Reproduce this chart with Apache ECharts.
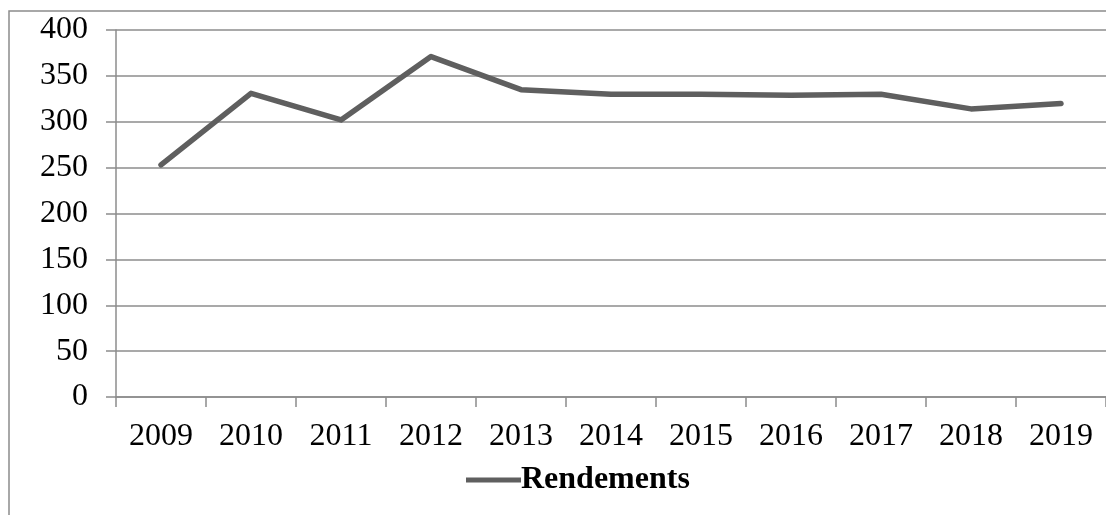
<!DOCTYPE html>
<html>
<head>
<meta charset="UTF-8">
<title></title>
<script src="https://cdn.jsdelivr.net/npm/echarts@6/dist/echarts.min.js"></script>
<style>
  html, body { margin: 0; padding: 0; background: #fff; }
</style>
</head>
<body>
<div id="main" style="width:1106px;height:515px;"></div>
<script type="text/javascript">
// données
var years = ['2009', '2010', '2011', '2012', '2013', '2014', '2015', '2016', '2017', '2018', '2019'];
var rendements = [253, 331, 302, 371, 335, 330, 330, 329, 330, 314, 320];
var seriesName = 'Rendements';

var font = '"Liberation Serif", "Times New Roman", serif';
var gridColor = '#8c8c8c';

var option = {
    animation: false,
    backgroundColor: '#fff',
    graphic: [{
        type: 'rect',
        shape: { x: 9, y: 11, width: 1300, height: 700 },
        style: { fill: 'none', stroke: gridColor, lineWidth: 1.5 },
        silent: true
    }],
    grid: { left: 116, top: 30, right: 0, bottom: 118 },
    legend: {
        data: [seriesName],
        top: 459,
        left: 461,
        itemWidth: 55,
        itemHeight: 5,
        icon: 'rect',
        textStyle: {
            fontFamily: font,
            fontSize: 32,
            fontWeight: 'bold',
            color: '#000',
            padding: [0, 0, 0, -5]
        }
    },
    xAxis: {
        type: 'category',
        data: years,
        boundaryGap: true,
        axisLine: { lineStyle: { color: gridColor, width: 1.5 } },
        axisTick: { show: true, length: 10, lineStyle: { color: gridColor, width: 1.5 } },
        axisLabel: { fontFamily: font, fontSize: 32, color: '#000', margin: 24, interval: 0 },
        splitLine: { show: false }
    },
    yAxis: {
        type: 'value',
        min: 0,
        max: 400,
        interval: 50,
        axisLine: { show: true, lineStyle: { color: gridColor, width: 1.5 } },
        axisTick: { show: true, length: 10, lineStyle: { color: gridColor, width: 1.5 } },
        axisLabel: { fontFamily: font, fontSize: 32, color: '#000', margin: 28 },
        splitLine: { show: true, lineStyle: { color: gridColor, width: 1.5 } }
    },
    series: [{
        name: seriesName,
        type: 'line',
        data: rendements,
        symbol: 'none',
        itemStyle: { color: '#5f5f5f' },
        lineStyle: { color: '#5f5f5f', width: 5.5, cap: 'round', join: 'round' }
    }]
};

var myChart = echarts.init(document.getElementById('main'));
myChart.setOption(option);
</script>
</body>
</html>
